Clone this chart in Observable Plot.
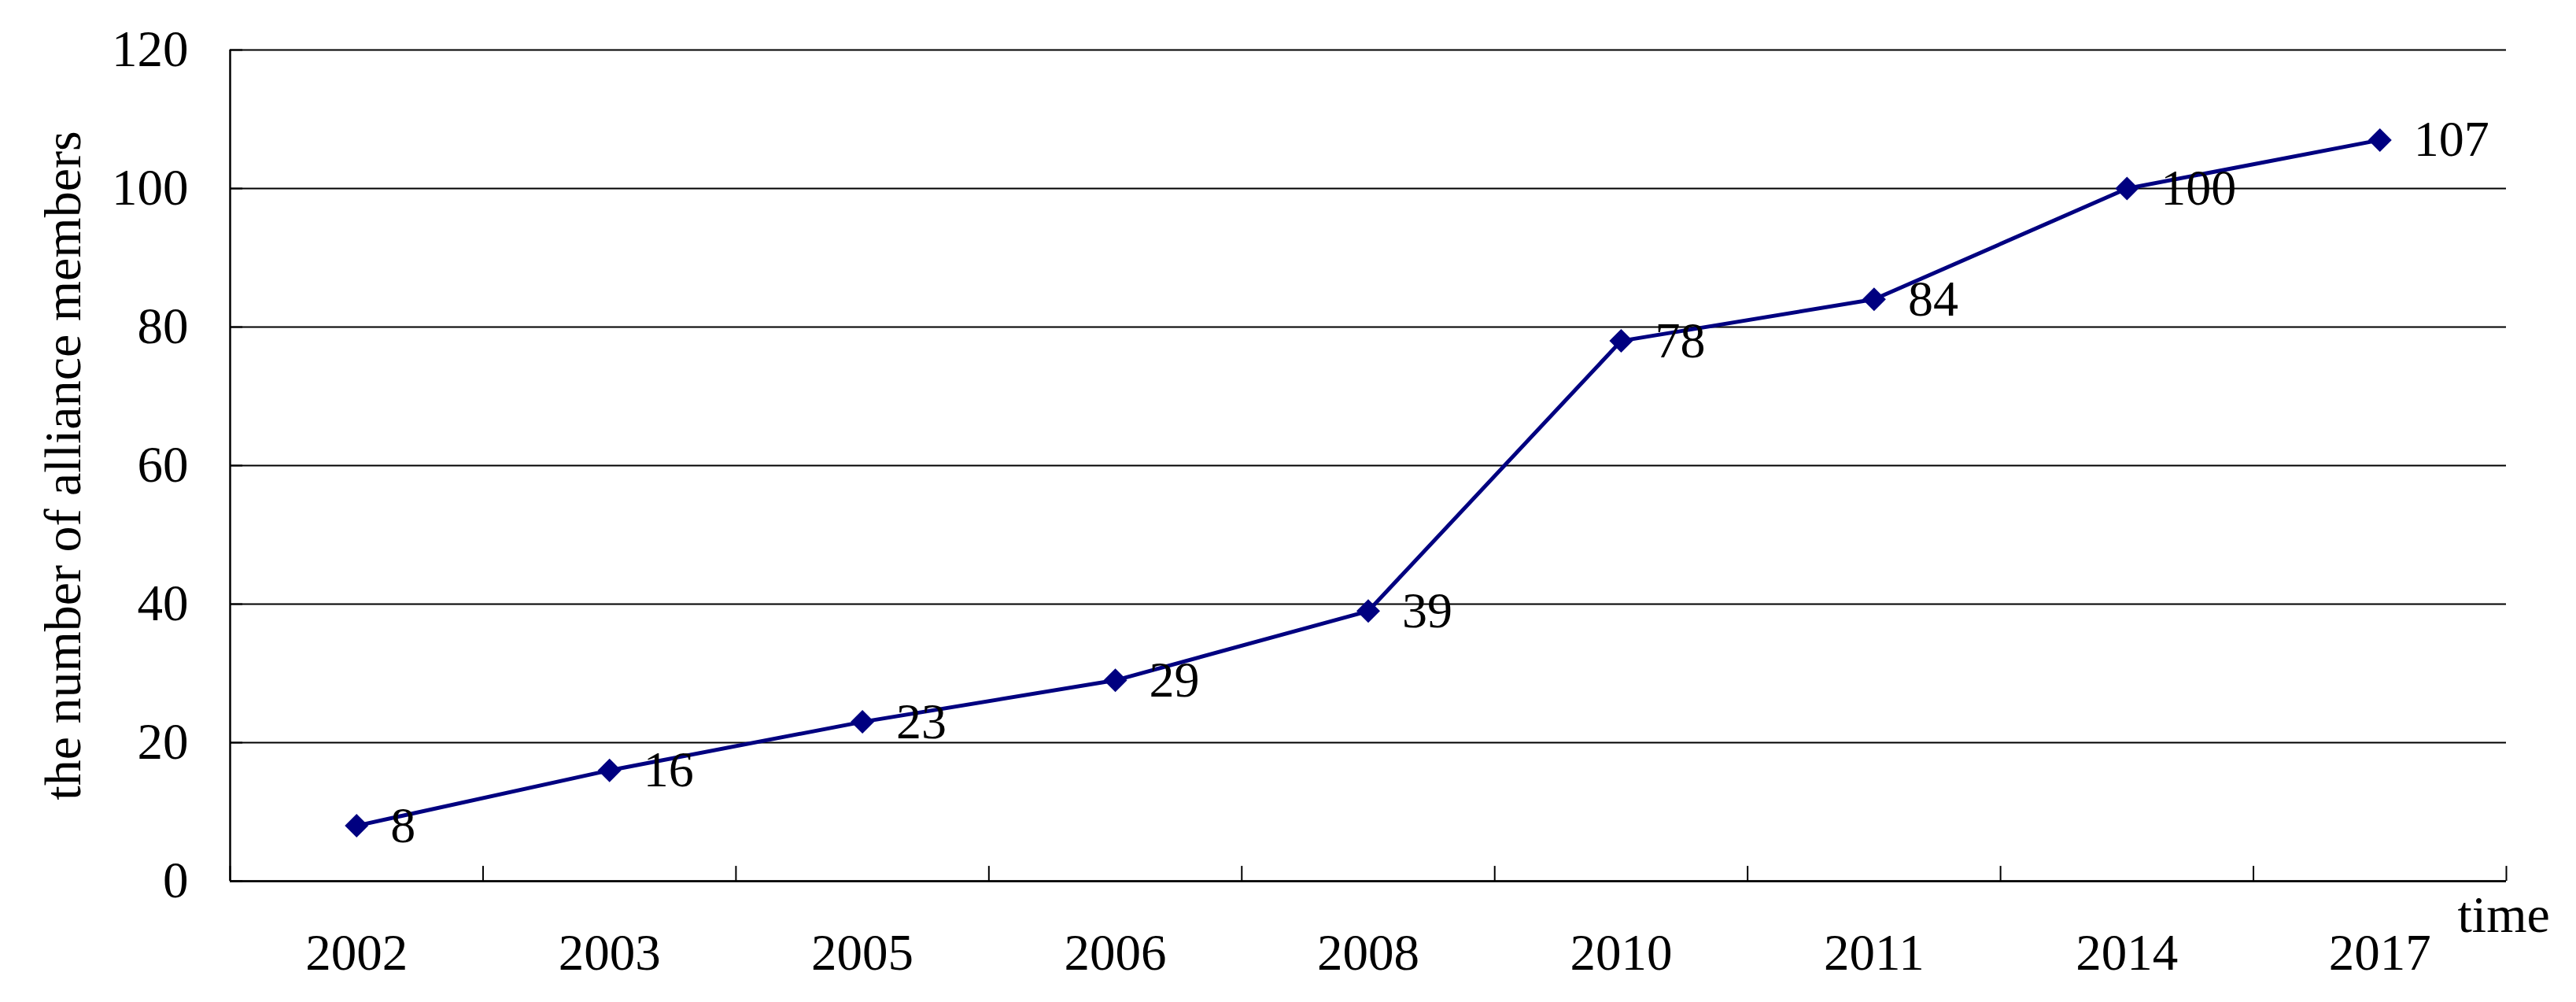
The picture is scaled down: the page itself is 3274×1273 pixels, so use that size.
<!DOCTYPE html>
<html><head><meta charset="utf-8">
<script src="https://cdn.jsdelivr.net/npm/d3@7"></script>
<script src="https://cdn.jsdelivr.net/npm/@observablehq/plot@0.6"></script>
<style>body{margin:0;background:#fff}</style>
</head><body><div id="chart"></div>
<script>
const years = ["2002","2003","2005","2006","2008","2010","2011","2014","2017"];
const members = [8,16,23,29,39,78,84,100,107];
const yTicks = [0,20,40,60,80,100,120];
const yTitle = "the number of alliance members";
const xTitle = "time";

const data = years.map((year, i) => ({year, pos: i + 0.5, members: members[i]}));
const boundaries = d3.range(years.length + 1);
const font = "'Liberation Serif', 'Times New Roman', serif";
const navy = "#000080";

const chart = Plot.plot({
  width: 3274, height: 1273,
  marginLeft: 292, marginRight: 89, marginTop: 63, marginBottom: 154,
  style: {fontFamily: font, fontSize: "65px", background: "#fff", color: "#000", overflow: "visible"},
  x: {type: "linear", domain: [0, years.length], label: null},
  y: {domain: [0, 120], label: null},
  marks: [
    Plot.gridY(yTicks, {stroke: "#000", strokeOpacity: 1, strokeWidth: 2}),
    Plot.ruleY(yTicks, {x1: 0, x2: 0.05, stroke: "#000", strokeWidth: 2}),
    Plot.ruleX(boundaries, {y1: 0, y2: 2.15, stroke: "#000", strokeWidth: 2}),
    Plot.ruleX([0], {stroke: "#000", strokeWidth: 2.5}),
    Plot.ruleY([0], {stroke: "#000", strokeWidth: 2.5}),
    Plot.axisY(yTicks, {tickSize: 0, tickPadding: 53, fontSize: 65, tickFormat: d => String(d), label: null}),
    Plot.axisX(data.map(d => d.pos), {tickSize: 0, tickPadding: 66, fontSize: 65, tickFormat: d => years[Math.floor(d)], label: null}),
    Plot.line(data, {x: "pos", y: "members", stroke: navy, strokeWidth: 5}),
    Plot.dot(data, {x: "pos", y: "members", symbol: "diamond2", r: 13.5, fill: navy, stroke: null}),
    Plot.text(data, {x: "pos", y: "members", text: d => String(d.members), textAnchor: "start", dx: 43, fontSize: 64, fill: "#000"}),
    Plot.text([yTitle], {text: d => d, frameAnchor: "left", textAnchor: "middle", rotate: -90, dx: -212, fontSize: 66, fill: "#000"}),
    Plot.text([xTitle], {text: d => d, frameAnchor: "bottom-right", textAnchor: "start", dx: -62, dy: 64, fontSize: 66, fill: "#000"})
  ]
});
document.getElementById("chart").appendChild(chart);
</script>
</body></html>
